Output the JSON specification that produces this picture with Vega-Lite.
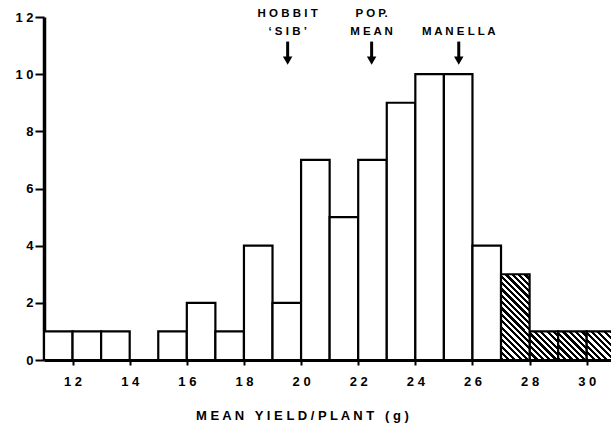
{
  "$schema": "https://vega.github.io/schema/vega-lite/v6.json",
  "width": 567,
  "height": 343,
  "autosize": "none",
  "padding": {"left": 44, "top": 17, "right": 0, "bottom": 65},
  "background": "white",
  "config": {"view": {"stroke": null}, "font": "Liberation Sans"},
  "datasets": {
    "bars": [
      {"yield": 11, "yield_end": 12, "count": 1, "hatched": false},
      {"yield": 12, "yield_end": 13, "count": 1, "hatched": false},
      {"yield": 13, "yield_end": 14, "count": 1, "hatched": false},
      {"yield": 14, "yield_end": 15, "count": 0, "hatched": false},
      {"yield": 15, "yield_end": 16, "count": 1, "hatched": false},
      {"yield": 16, "yield_end": 17, "count": 2, "hatched": false},
      {"yield": 17, "yield_end": 18, "count": 1, "hatched": false},
      {"yield": 18, "yield_end": 19, "count": 4, "hatched": false},
      {"yield": 19, "yield_end": 20, "count": 2, "hatched": false},
      {"yield": 20, "yield_end": 21, "count": 7, "hatched": false},
      {"yield": 21, "yield_end": 22, "count": 5, "hatched": false},
      {"yield": 22, "yield_end": 23, "count": 7, "hatched": false},
      {"yield": 23, "yield_end": 24, "count": 9, "hatched": false},
      {"yield": 24, "yield_end": 25, "count": 10, "hatched": false},
      {"yield": 25, "yield_end": 26, "count": 10, "hatched": false},
      {"yield": 26, "yield_end": 27, "count": 4, "hatched": false},
      {"yield": 27, "yield_end": 28, "count": 3, "hatched": true},
      {"yield": 28, "yield_end": 29, "count": 1, "hatched": true},
      {"yield": 29, "yield_end": 30, "count": 1, "hatched": true},
      {"yield": 30, "yield_end": 31, "count": 1, "hatched": true}
    ],
    "notes": [
      {"yield": 19.53, "label": ["H O B B I T", "‘ S I B ’"]},
      {"yield": 22.47, "label": ["P O P.", "M E A N"]},
      {"yield": 25.52, "label": ["", "M A N E L L A"]}
    ]
  },
  "layer": [
    {
      "data": {"name": "bars"},
      "transform": [{"filter": "!datum.hatched"}],
      "mark": {"type": "bar", "fill": "white", "stroke": "black", "strokeWidth": 2.2, "clip": true},
      "encoding": {
        "x": {
          "field": "yield", "type": "quantitative",
          "scale": {"domain": [11, 30.85], "nice": false, "zero": false},
          "axis": {
            "title": "M E A N \u00a0 Y I E L D / P L A N T \u00a0 ( g )",
            "values": [12, 14, 16, 18, 20, 22, 24, 26, 28, 30],
            "labelExpr": "join(split(datum.label, ''), ' ')",
            "grid": false,
            "domainColor": "black", "domainWidth": 3,
            "tickColor": "black", "tickWidth": 2, "tickSize": 5,
            "labelPadding": 10, "labelFontSize": 13, "labelFontWeight": "bold", "labelColor": "black",
            "labelFont": "Liberation Sans",
            "titleFont": "Liberation Sans", "titleFontSize": 13, "titleFontWeight": "bold", "titleColor": "black",
            "titleX": 258, "titleY": 55, "titleBaseline": "middle", "titleAlign": "center", "titleAnchor": null
          }
        },
        "x2": {"field": "yield_end"},
        "y": {
          "field": "count", "type": "quantitative",
          "scale": {"domain": [0, 12], "nice": false},
          "axis": {
            "title": null,
            "values": [0, 2, 4, 6, 8, 10, 12],
            "labelExpr": "join(split(datum.label, ''), ' ')",
            "grid": false,
            "domainColor": "black", "domainWidth": 3.5,
            "tickColor": "black", "tickWidth": 2, "tickSize": 9,
            "labelPadding": 2, "labelFontSize": 13, "labelFontWeight": "bold", "labelColor": "black",
            "labelFont": "Liberation Sans"
          }
        },
        "y2": {"datum": 0}
      }
    },
    {
      "data": {"name": "bars"},
      "transform": [{"filter": "datum.hatched && datum.count < 2"}],
      "mark": {
        "type": "bar", "stroke": "black", "strokeWidth": 2.2, "clip": true,
        "fill": {
          "gradient": "linear", "x1": 0, "y1": 1, "x2": 1, "y2": 0,
          "stops": [
            {"offset": 0, "color": "black"},
            {"offset": 0.0556, "color": "black"}, {"offset": 0.0556, "color": "white"},
            {"offset": 0.1111, "color": "white"}, {"offset": 0.1111, "color": "black"},
            {"offset": 0.1667, "color": "black"}, {"offset": 0.1667, "color": "white"},
            {"offset": 0.2222, "color": "white"}, {"offset": 0.2222, "color": "black"},
            {"offset": 0.2778, "color": "black"}, {"offset": 0.2778, "color": "white"},
            {"offset": 0.3333, "color": "white"}, {"offset": 0.3333, "color": "black"},
            {"offset": 0.3889, "color": "black"}, {"offset": 0.3889, "color": "white"},
            {"offset": 0.4444, "color": "white"}, {"offset": 0.4444, "color": "black"},
            {"offset": 0.5, "color": "black"}, {"offset": 0.5, "color": "white"},
            {"offset": 0.5556, "color": "white"}, {"offset": 0.5556, "color": "black"},
            {"offset": 0.6111, "color": "black"}, {"offset": 0.6111, "color": "white"},
            {"offset": 0.6667, "color": "white"}, {"offset": 0.6667, "color": "black"},
            {"offset": 0.7222, "color": "black"}, {"offset": 0.7222, "color": "white"},
            {"offset": 0.7778, "color": "white"}, {"offset": 0.7778, "color": "black"},
            {"offset": 0.8333, "color": "black"}, {"offset": 0.8333, "color": "white"},
            {"offset": 0.8889, "color": "white"}, {"offset": 0.8889, "color": "black"},
            {"offset": 0.9444, "color": "black"}, {"offset": 0.9444, "color": "white"},
            {"offset": 1, "color": "white"}
          ]
        }
      },
      "encoding": {
        "x": {"field": "yield", "type": "quantitative"},
        "x2": {"field": "yield_end"},
        "y": {"field": "count", "type": "quantitative"},
        "y2": {"datum": 0}
      }
    },
    {
      "data": {"name": "bars"},
      "transform": [{"filter": "datum.hatched && datum.count >= 2"}],
      "mark": {
        "type": "bar", "stroke": "black", "strokeWidth": 2.2, "clip": true,
        "fill": {
          "gradient": "linear", "x1": 0, "y1": 1, "x2": 0.4, "y2": -0.2,
          "stops": [
            {"offset": 0, "color": "black"},
            {"offset": 0.0278, "color": "black"}, {"offset": 0.0278, "color": "white"},
            {"offset": 0.0556, "color": "white"}, {"offset": 0.0556, "color": "black"},
            {"offset": 0.0833, "color": "black"}, {"offset": 0.0833, "color": "white"},
            {"offset": 0.1111, "color": "white"}, {"offset": 0.1111, "color": "black"},
            {"offset": 0.1389, "color": "black"}, {"offset": 0.1389, "color": "white"},
            {"offset": 0.1667, "color": "white"}, {"offset": 0.1667, "color": "black"},
            {"offset": 0.1944, "color": "black"}, {"offset": 0.1944, "color": "white"},
            {"offset": 0.2222, "color": "white"}, {"offset": 0.2222, "color": "black"},
            {"offset": 0.25, "color": "black"}, {"offset": 0.25, "color": "white"},
            {"offset": 0.2778, "color": "white"}, {"offset": 0.2778, "color": "black"},
            {"offset": 0.3056, "color": "black"}, {"offset": 0.3056, "color": "white"},
            {"offset": 0.3333, "color": "white"}, {"offset": 0.3333, "color": "black"},
            {"offset": 0.3611, "color": "black"}, {"offset": 0.3611, "color": "white"},
            {"offset": 0.3889, "color": "white"}, {"offset": 0.3889, "color": "black"},
            {"offset": 0.4167, "color": "black"}, {"offset": 0.4167, "color": "white"},
            {"offset": 0.4444, "color": "white"}, {"offset": 0.4444, "color": "black"},
            {"offset": 0.4722, "color": "black"}, {"offset": 0.4722, "color": "white"},
            {"offset": 0.5, "color": "white"}, {"offset": 0.5, "color": "black"},
            {"offset": 0.5278, "color": "black"}, {"offset": 0.5278, "color": "white"},
            {"offset": 0.5556, "color": "white"}, {"offset": 0.5556, "color": "black"},
            {"offset": 0.5833, "color": "black"}, {"offset": 0.5833, "color": "white"},
            {"offset": 0.6111, "color": "white"}, {"offset": 0.6111, "color": "black"},
            {"offset": 0.6389, "color": "black"}, {"offset": 0.6389, "color": "white"},
            {"offset": 0.6667, "color": "white"}, {"offset": 0.6667, "color": "black"},
            {"offset": 0.6944, "color": "black"}, {"offset": 0.6944, "color": "white"},
            {"offset": 0.7222, "color": "white"}, {"offset": 0.7222, "color": "black"},
            {"offset": 0.75, "color": "black"}, {"offset": 0.75, "color": "white"},
            {"offset": 0.7778, "color": "white"}, {"offset": 0.7778, "color": "black"},
            {"offset": 0.8056, "color": "black"}, {"offset": 0.8056, "color": "white"},
            {"offset": 0.8333, "color": "white"}, {"offset": 0.8333, "color": "black"},
            {"offset": 0.8611, "color": "black"}, {"offset": 0.8611, "color": "white"},
            {"offset": 0.8889, "color": "white"}, {"offset": 0.8889, "color": "black"},
            {"offset": 0.9167, "color": "black"}, {"offset": 0.9167, "color": "white"},
            {"offset": 0.9444, "color": "white"}, {"offset": 0.9444, "color": "black"},
            {"offset": 0.9722, "color": "black"}, {"offset": 0.9722, "color": "white"},
            {"offset": 1, "color": "white"}
          ]
        }
      },
      "encoding": {
        "x": {"field": "yield", "type": "quantitative"},
        "x2": {"field": "yield_end"},
        "y": {"field": "count", "type": "quantitative"},
        "y2": {"datum": 0}
      }
    },
    {
      "data": {"name": "notes"},
      "mark": {"type": "rule", "color": "black", "strokeWidth": 3},
      "encoding": {
        "x": {"field": "yield", "type": "quantitative"},
        "y": {"datum": 11.14, "type": "quantitative"},
        "y2": {"datum": 10.6}
      }
    },
    {
      "data": {"name": "notes"},
      "mark": {"type": "point", "shape": "triangle-down", "filled": true, "color": "black", "size": 90, "opacity": 1},
      "encoding": {
        "x": {"field": "yield", "type": "quantitative"},
        "y": {"datum": 10.47, "type": "quantitative"}
      }
    },
    {
      "data": {"name": "notes"},
      "mark": {"type": "text", "align": "center", "baseline": "alphabetic", "fontSize": 11.5, "fontWeight": "bold", "lineHeight": 18.5, "color": "black", "font": "Liberation Sans"},
      "encoding": {
        "x": {"field": "yield", "type": "quantitative"},
        "y": {"datum": 12.01, "type": "quantitative"},
        "text": {"field": "label"}
      }
    }
  ]
}
